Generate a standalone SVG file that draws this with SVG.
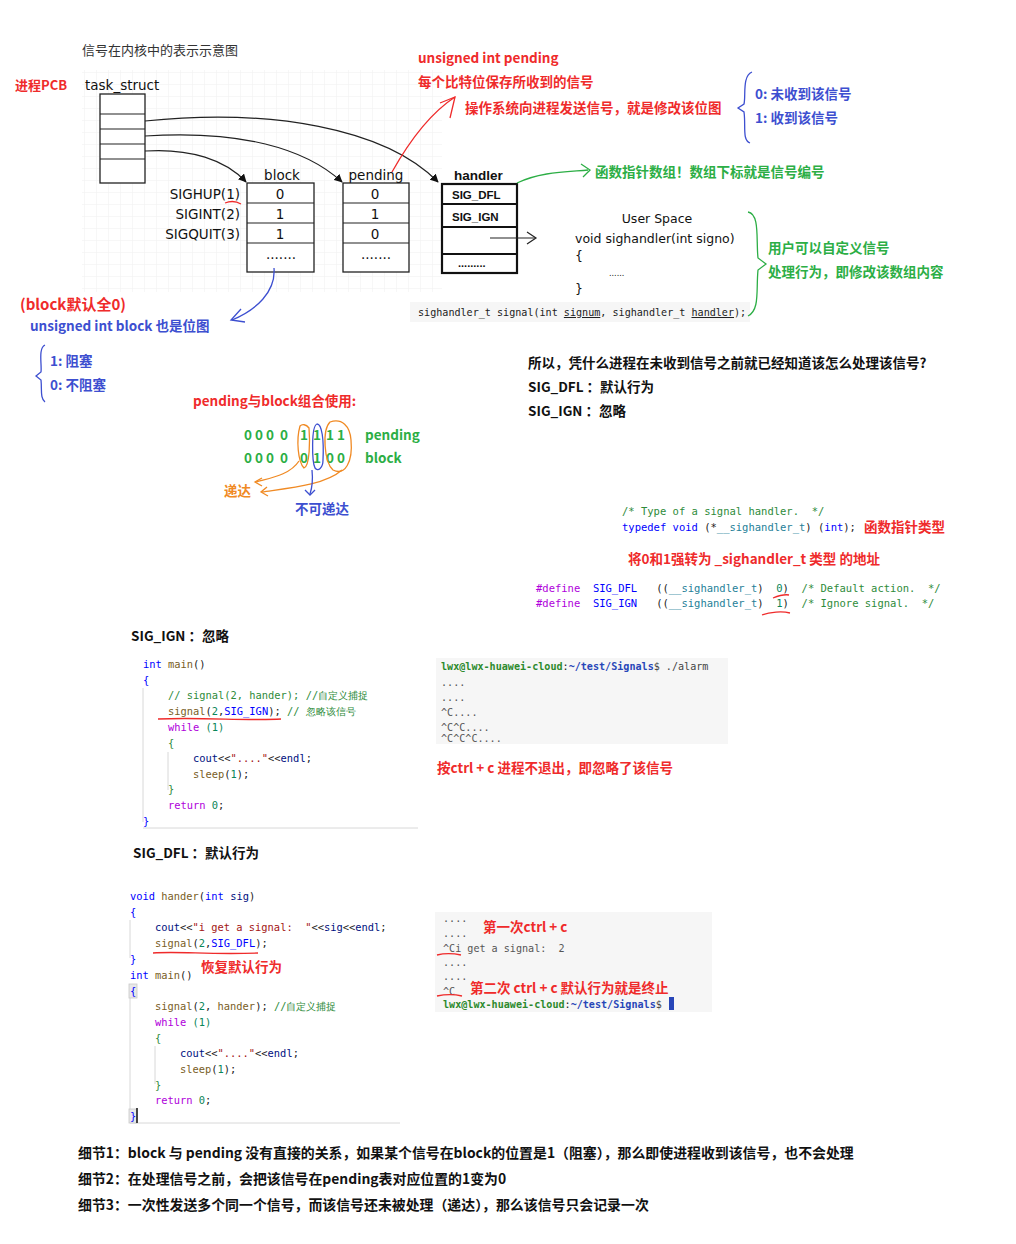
<svg xmlns="http://www.w3.org/2000/svg" width="1016" height="1244" viewBox="0 0 1016 1244">
<defs>
<style>
.cn{font-family:"Noto Sans CJK SC","Noto Sans",sans-serif;}
.b{font-weight:bold;}
.red{fill:#ef2b2b;}
.blue{fill:#3d4fd0;}
.green{fill:#2cae45;}
.orange{fill:#f08a24;}
.blk{fill:#111;}
.hand{font-family:"DejaVu Sans","Noto Sans",sans-serif;font-size:13.5px;fill:#111;}
.us{font-size:12.5px;}
.mono{font-family:"DejaVu Sans Mono","Liberation Mono",monospace;font-size:10.4px;white-space:pre;}
.m10{font-size:10.1px;}
.m105{font-size:10.5px;}
.term{font-size:10.1px;}
.box{fill:#fff;stroke:#222;stroke-width:1.3;}
.hbox{fill:#fff;stroke:#111;stroke-width:2.2;}
.cur{fill:none;stroke:#222;stroke-width:1.2;}
.rl{fill:none;stroke:#ef2b2b;stroke-width:1.3;}
.bl{fill:none;stroke:#3d4fd0;stroke-width:1.3;}
.gl{fill:none;stroke:#2cae45;stroke-width:1.3;}
.ol{fill:none;stroke:#f08a24;stroke-width:1.3;}
.kw{fill:#0000ff;} .fn{fill:#795e26;} .cm{fill:#2e8b3a;} .pk{fill:#af00db;} .num{fill:#098658;} .var{fill:#001080;} .str{fill:#a31515;} .typ{fill:#267f99;} .pl{fill:#222;}
.guide{stroke:#d8d8d8;stroke-width:1;}
.det{font-size:13.9px;}
</style>
<marker id="ah" viewBox="0 0 10 10" refX="9" refY="5" markerWidth="7" markerHeight="7" orient="auto">
<path d="M0,0 L10,5 L0,10 z" fill="#111"/>
</marker>
<pattern id="grid" width="12" height="12" patternUnits="userSpaceOnUse">
<path d="M12,0 L0,0 0,12" fill="none" stroke="#efefef" stroke-width="1"/>
</pattern>
</defs>
<rect width="1016" height="1244" fill="#fff"/>

<g id="kernel-diagram">
<rect x="82" y="70" width="360" height="222" fill="url(#grid)"/>
<text x="82" y="55" class="cn" font-size="13" fill="#333">信号在内核中的表示示意图</text>
<text x="15" y="90" class="cn b red" font-size="13">进程PCB</text>
<text x="85" y="90" class="hand">task_struct</text>
</g>

<g id="task_struct">
<rect x="100" y="94" width="45" height="89" class="box"/>
<line x1="100" y1="114" x2="145" y2="114" stroke="#222" stroke-width="1.2"/>
<line x1="100" y1="129" x2="145" y2="129" stroke="#222" stroke-width="1.2"/>
<line x1="100" y1="144" x2="145" y2="144" stroke="#222" stroke-width="1.2"/>
<line x1="100" y1="159" x2="145" y2="159" stroke="#222" stroke-width="1.2"/>
</g>

<g id="block-table">
<text x="282" y="180" class="hand" text-anchor="middle">block</text>
<rect x="247" y="183" width="67" height="89" class="box"/>
<line x1="247" y1="203" x2="314" y2="203" stroke="#222" stroke-width="1.2"/>
<line x1="247" y1="223" x2="314" y2="223" stroke="#222" stroke-width="1.2"/>
<line x1="247" y1="243" x2="314" y2="243" stroke="#222" stroke-width="1.2"/>
<text x="280" y="199" class="hand" text-anchor="middle">0</text>
<text x="280" y="219" class="hand" text-anchor="middle">1</text>
<text x="280" y="239" class="hand" text-anchor="middle">1</text>
<text x="281" y="259" class="hand" text-anchor="middle">.......</text>
<text x="240" y="199" class="hand" text-anchor="end">SIGHUP(1)</text>
<text x="240" y="219" class="hand" text-anchor="end">SIGINT(2)</text>
<text x="240" y="239" class="hand" text-anchor="end">SIGQUIT(3)</text>
<path d="M225,203 C 230,201 236,201 241,204" class="rl"/>
</g>

<g id="pending-table">
<text x="376" y="180" class="hand" text-anchor="middle">pending</text>
<rect x="343" y="183" width="66" height="89" class="box"/>
<line x1="343" y1="203" x2="409" y2="203" stroke="#222" stroke-width="1.2"/>
<line x1="343" y1="223" x2="409" y2="223" stroke="#222" stroke-width="1.2"/>
<line x1="343" y1="243" x2="409" y2="243" stroke="#222" stroke-width="1.2"/>
<text x="375" y="199" class="hand" text-anchor="middle">0</text>
<text x="375" y="219" class="hand" text-anchor="middle">1</text>
<text x="375" y="239" class="hand" text-anchor="middle">0</text>
<text x="376" y="259" class="hand" text-anchor="middle">.......</text>
</g>

<g id="handler-table">
<text x="454" y="180" font-family="Liberation Sans,Arial,sans-serif" font-weight="bold" font-size="13.5" fill="#111">handler</text>
<rect x="442" y="184" width="75" height="89" class="hbox"/>
<line x1="442" y1="204" x2="517" y2="204" stroke="#111" stroke-width="2"/>
<line x1="442" y1="227" x2="517" y2="227" stroke="#111" stroke-width="2"/>
<line x1="442" y1="254" x2="517" y2="254" stroke="#111" stroke-width="2"/>
<text x="452" y="199" font-family="Liberation Sans,Arial,sans-serif" font-weight="bold" font-size="11.5" fill="#111">SIG_DFL</text>
<text x="452" y="221" font-family="Liberation Sans,Arial,sans-serif" font-weight="bold" font-size="11.5" fill="#111">SIG_IGN</text>
<text x="458" y="267" font-family="Liberation Sans,Arial,sans-serif" font-weight="bold" font-size="11" fill="#111">.........</text>
</g>

<g id="user-space">
<text x="657" y="223" class="hand us" text-anchor="middle">User Space</text>
<text x="575" y="243" class="hand us">void sighandler(int signo)</text>
<text x="575" y="260" class="hand us">{</text>
<text x="609" y="276" class="hand" style="font-size:8px">......</text>
<text x="575" y="293" class="hand us">}</text>
<rect x="410" y="302" width="340" height="20" fill="#f6f6f6"/>
<text x="418" y="316" class="mono m10" fill="#222">sighandler_t signal(int <tspan text-decoration="underline">signum</tspan>, sighandler_t <tspan text-decoration="underline">handler</tspan>);</text>
</g>

<g id="connectors">
<path d="M145,121 C 270,108 385,128 438,182" class="cur" marker-end="url(#ah)"/>
<path d="M145,136 C 240,130 305,148 342,182" class="cur" marker-end="url(#ah)"/>
<path d="M145,151 C 190,148 226,160 246,182" class="cur" marker-end="url(#ah)"/>
<path d="M490,238 L535,238" class="cur" stroke-width="1.6"/>
<path d="M527,232 L536,238 L527,244" class="cur" stroke-width="1.6"/>
<path d="M392,172 C 410,140 432,112 455,97" class="rl"/>
<path d="M440,103 L455,97 L450,118" class="rl"/>
<path d="M517,183 C 540,172 565,172 588,170" class="gl"/>
<path d="M581,164 L590,170 L583,177" class="gl"/>
<path d="M274,268 C 276,292 256,310 232,320" class="bl"/>
<path d="M241,309 L231,320 L245,322" class="bl"/>
</g>

<g id="pending-notes">
<text x="418" y="63" class="cn b red" font-size="13.5">unsigned int pending</text>
<text x="418" y="87" class="cn b red" font-size="13.5">每个比特位保存所收到的信号</text>
<text x="465" y="113" class="cn b red" font-size="13.5">操作系统向进程发送信号，就是修改该位图</text>
<path d="M752,72 C 742,76 746,96 744,104 L738,108 L744,112 C 746,126 742,140 750,143" class="bl"/>
<text x="755" y="99" class="cn b blue" font-size="13.5">0: 未收到该信号</text>
<text x="755" y="123" class="cn b blue" font-size="13.5">1: 收到该信号</text>
<text x="595" y="177" class="cn b green" font-size="13.5">函数指针数组！数组下标就是信号编号</text>
<path d="M748,212 C 760,214 756,240 758,258 L766,264 L758,270 C 756,290 760,310 748,316" class="gl"/>
<text x="768" y="253" class="cn b green" font-size="13.5">用户可以自定义信号</text>
<text x="768" y="277" class="cn b green" font-size="13.5">处理行为，即修改该数组内容</text>
</g>

<g id="block-notes">
<text x="20" y="310" class="cn b red" font-size="15">(block默认全0)</text>
<text x="30" y="331" class="cn b blue" font-size="13.5">unsigned int block 也是位图</text>
<path d="M45,345 C 38,348 42,365 41,372 L36,376 L41,380 C 42,390 40,398 45,402" class="bl"/>
<text x="50" y="366" class="cn b blue" font-size="13.5">1:  阻塞</text>
<text x="50" y="390" class="cn b blue" font-size="13.5">0:  不阻塞</text>
<text x="193" y="406" class="cn b red" font-size="13.5">pending与block组合使用:</text>
</g>

<g id="bitmaps">
<text y="440" class="cn b green" font-size="13.5"><tspan x="244">0</tspan><tspan x="255">0</tspan><tspan x="266">0</tspan><tspan x="280">0</tspan><tspan x="300">1</tspan><tspan x="313">1</tspan><tspan x="326">1</tspan><tspan x="337">1</tspan></text>
<text y="463" class="cn b green" font-size="13.5"><tspan x="244">0</tspan><tspan x="255">0</tspan><tspan x="266">0</tspan><tspan x="280">0</tspan><tspan x="300">0</tspan><tspan x="313">1</tspan><tspan x="326">0</tspan><tspan x="337">0</tspan></text>
<text x="365" y="440" class="cn b green" font-size="13.5">pending</text>
<text x="365" y="463" class="cn b green" font-size="13.5">block</text>
<path d="M300,426 C 296,440 298,462 304,468 C 310,466 310,440 309,428 C 306,424 302,424 300,426 z" class="ol"/>
<path d="M317,424 C 311,426 312,462 315,468 C 318,472 323,468 323,460 C 324,440 322,424 317,424 z" class="bl"/>
<path d="M330,422 C 322,430 324,462 333,470 C 345,476 353,462 351,440 C 350,426 342,418 330,422 z" class="ol"/>
<path d="M299,461 C 290,475 270,478 256,482" class="ol"/>
<path d="M262,478 L255,482 L262,486" class="ol"/>
<path d="M342,470 C 325,485 290,488 262,492" class="ol"/>
<path d="M267,487 L261,492 L268,496" class="ol"/>
<path d="M312,470 C 313,480 312,488 310,494" class="bl"/>
<path d="M305,490 L310,495 L315,490" class="bl"/>
<text x="224" y="496" class="cn b orange" font-size="13.5">递达</text>
<text x="295" y="514" class="cn b blue" font-size="13.5">不可递达</text>
</g>

<g id="question">
<text x="528" y="368" class="cn b blk" font-size="13.5">所以，凭什么进程在未收到信号之前就已经知道该怎么处理该信号?</text>
<text x="528" y="392" class="cn b blk" font-size="13.5">SIG_DFL ：默认行为</text>
<text x="528" y="416" class="cn b blk" font-size="13.5">SIG_IGN ：忽略</text>
</g>

<g id="typedef-code">
<text x="622" y="515" class="mono m105 cm">/* Type of a signal handler.  */</text>
<text x="622" y="531" class="mono m105"><tspan class="kw">typedef void</tspan><tspan class="pl"> (*</tspan><tspan class="typ">__sighandler_t</tspan><tspan class="pl">) (</tspan><tspan class="kw">int</tspan><tspan class="pl">);</tspan></text>
<text x="864" y="532" class="cn b red" font-size="13.5">函数指针类型</text>
<text x="628" y="564" class="cn b red" font-size="13.5">将0和1强转为 _sighandler_t 类型 的地址</text>
<text x="536" y="592" class="mono m105"><tspan class="pk">#define</tspan><tspan class="kw">  SIG_DFL</tspan><tspan class="pl">   ((</tspan><tspan class="typ">__sighandler_t</tspan><tspan class="pl">)  </tspan><tspan class="num">0</tspan><tspan class="pl">)  </tspan><tspan class="cm">/* Default action.  */</tspan></text>
<text x="536" y="607" class="mono m105"><tspan class="pk">#define</tspan><tspan class="kw">  SIG_IGN</tspan><tspan class="pl">   ((</tspan><tspan class="typ">__sighandler_t</tspan><tspan class="pl">)  </tspan><tspan class="num">1</tspan><tspan class="pl">)  </tspan><tspan class="cm">/* Ignore signal.  */</tspan></text>
<path d="M773,598 C 778,596 784,594 789,595" class="rl"/>
<path d="M762,615 C 770,612 782,611 790,613" class="rl"/>
</g>

<g id="sig-ign-example">
<text x="131" y="641" class="cn b blk" font-size="13.5">SIG_IGN ：忽略</text>
<line x1="143" y1="688" x2="143" y2="822" class="guide"/>
<line x1="168" y1="752" x2="168" y2="790" class="guide"/>
<line x1="143" y1="828" x2="418" y2="828" class="guide"/>
<text x="143" y="668" class="mono"><tspan class="kw">int</tspan><tspan class="fn"> main</tspan><tspan class="pl">()</tspan></text>
<text x="143" y="684" class="mono kw">{</text>
<text x="168" y="699" class="mono cm">// signal(2, hander); //自定义捕捉</text>
<text x="168" y="715" class="mono"><tspan class="fn">signal</tspan><tspan class="pl">(</tspan><tspan class="num">2</tspan><tspan class="pl">,</tspan><tspan class="kw">SIG_IGN</tspan><tspan class="pl">); </tspan><tspan class="cm">// 忽略该信号</tspan></text>
<path d="M158,719 C 200,717 250,721 281,719" class="rl"/>
<text x="168" y="731" class="mono"><tspan class="pk">while</tspan><tspan class="num"> (1)</tspan></text>
<text x="168" y="747" class="mono cm">{</text>
<text x="193" y="762" class="mono"><tspan class="var">cout</tspan><tspan class="pl">&lt;&lt;</tspan><tspan class="str">"...."</tspan><tspan class="pl">&lt;&lt;</tspan><tspan class="var">endl</tspan><tspan class="pl">;</tspan></text>
<text x="193" y="778" class="mono"><tspan class="fn">sleep</tspan><tspan class="pl">(</tspan><tspan class="num">1</tspan><tspan class="pl">);</tspan></text>
<text x="168" y="793" class="mono cm">}</text>
<text x="168" y="809" class="mono"><tspan class="pk">return</tspan><tspan class="num"> 0</tspan><tspan class="pl">;</tspan></text>
<text x="143" y="825" class="mono kw">}</text>
</g>

<g id="terminal-1">
<rect x="436" y="658" width="292" height="86" fill="#f6f6f6"/>
<text x="441" y="670" class="mono term"><tspan fill="#2d8a2d" font-weight="bold">lwx@lwx-huawei-cloud</tspan><tspan fill="#222">:</tspan><tspan fill="#2846b8" font-weight="bold">~/test/Signals</tspan><tspan fill="#444">$ ./alarm</tspan></text>
<text x="441" y="686" class="mono term" fill="#555">....</text>
<text x="441" y="701" class="mono term" fill="#555">....</text>
<text x="441" y="716" class="mono term" fill="#555">^C....</text>
<text x="441" y="731" class="mono term" fill="#555">^C^C....</text>
<text x="441" y="742" class="mono term" fill="#555">^C^C^C....</text>
<text x="437" y="773" class="cn b red" font-size="13.5">按ctrl + c 进程不退出，即忽略了该信号</text>
</g>

<g id="sig-dfl-example">
<text x="133" y="858" class="cn b blk" font-size="13.5">SIG_DFL ：默认行为</text>
<line x1="130" y1="920" x2="130" y2="958" class="guide"/>
<line x1="130" y1="998" x2="130" y2="1115" class="guide"/>
<line x1="155" y1="1046" x2="155" y2="1084" class="guide"/>
<line x1="130" y1="1123" x2="400" y2="1123" class="guide"/>
<text x="130" y="900" class="mono"><tspan class="kw">void</tspan><tspan class="fn"> hander</tspan><tspan class="pl">(</tspan><tspan class="kw">int</tspan><tspan class="var"> sig</tspan><tspan class="pl">)</tspan></text>
<text x="130" y="916" class="mono kw">{</text>
<text x="155" y="931" class="mono"><tspan class="var">cout</tspan><tspan class="pl">&lt;&lt;</tspan><tspan class="str">"i get a signal:  "</tspan><tspan class="pl">&lt;&lt;</tspan><tspan class="var">sig</tspan><tspan class="pl">&lt;&lt;</tspan><tspan class="var">endl</tspan><tspan class="pl">;</tspan></text>
<text x="155" y="947" class="mono"><tspan class="fn">signal</tspan><tspan class="pl">(</tspan><tspan class="num">2</tspan><tspan class="pl">,</tspan><tspan class="kw">SIG_DFL</tspan><tspan class="pl">);</tspan></text>
<path d="M153,953 C 180,951 210,955 258,953" class="rl"/>
<text x="130" y="963" class="mono kw">}</text>
<text x="201" y="972" class="cn b red" font-size="13.5">恢复默认行为</text>
<text x="130" y="979" class="mono"><tspan class="kw">int</tspan><tspan class="fn"> main</tspan><tspan class="pl">()</tspan></text>
<rect x="129" y="984" width="8" height="14" fill="#e8e8e8" stroke="#c8c8c8" stroke-width="0.8"/>
<text x="130" y="995" class="mono kw">{</text>
<text x="155" y="1010" class="mono"><tspan class="fn">signal</tspan><tspan class="pl">(</tspan><tspan class="num">2</tspan><tspan class="pl">, </tspan><tspan class="fn">hander</tspan><tspan class="pl">); </tspan><tspan class="cm">//自定义捕捉</tspan></text>
<text x="155" y="1026" class="mono"><tspan class="pk">while</tspan><tspan class="num"> (1)</tspan></text>
<text x="155" y="1042" class="mono cm">{</text>
<text x="180" y="1057" class="mono"><tspan class="var">cout</tspan><tspan class="pl">&lt;&lt;</tspan><tspan class="str">"...."</tspan><tspan class="pl">&lt;&lt;</tspan><tspan class="var">endl</tspan><tspan class="pl">;</tspan></text>
<text x="180" y="1073" class="mono"><tspan class="fn">sleep</tspan><tspan class="pl">(</tspan><tspan class="num">1</tspan><tspan class="pl">);</tspan></text>
<text x="155" y="1089" class="mono cm">}</text>
<text x="155" y="1104" class="mono"><tspan class="pk">return</tspan><tspan class="num"> 0</tspan><tspan class="pl">;</tspan></text>
<rect x="129" y="1109" width="8" height="14" fill="#e8e8e8" stroke="#c8c8c8" stroke-width="0.8"/>
<text x="130" y="1120" class="mono kw">}</text>
<line x1="137" y1="1108" x2="137" y2="1123" stroke="#111" stroke-width="1.5"/>
</g>

<g id="terminal-2">
<rect x="435" y="912" width="277" height="100" fill="#f6f6f6"/>
<text x="443" y="922" class="mono term" fill="#555">....</text>
<text x="443" y="937" class="mono term" fill="#555">....</text>
<text x="443" y="952" class="mono term" fill="#555">^Ci get a signal:  2</text>
<text x="443" y="966" class="mono term" fill="#555">....</text>
<text x="443" y="980" class="mono term" fill="#555">....</text>
<text x="443" y="995" class="mono term" fill="#555">^C</text>
<text x="443" y="1008" class="mono term"><tspan fill="#2d8a2d" font-weight="bold">lwx@lwx-huawei-cloud</tspan><tspan fill="#222">:</tspan><tspan fill="#2846b8" font-weight="bold">~/test/Signals</tspan><tspan fill="#444">$ </tspan></text>
<rect x="669" y="997" width="5" height="13" fill="#2846b8"/>
<text x="483" y="932" class="cn b red" font-size="13.5">第一次ctrl + c</text>
<text x="470" y="993" class="cn b red" font-size="13.5">第二次 ctrl + c 默认行为就是终止</text>
<path d="M437,955 C 445,953 452,953 461,955" class="rl"/>
<path d="M437,996 C 446,994 454,994 462,996" class="rl"/>
</g>

<g id="details">
<text x="78" y="1158" class="cn b blk det">细节1：block 与 pending 没有直接的关系，如果某个信号在block的位置是1（阻塞），那么即使进程收到该信号，也不会处理</text>
<text x="78" y="1184" class="cn b blk det">细节2：在处理信号之前，会把该信号在pending表对应位置的1变为0</text>
<text x="78" y="1210" class="cn b blk det">细节3：一次性发送多个同一个信号，而该信号还未被处理（递达），那么该信号只会记录一次</text>
</g>
</svg>
